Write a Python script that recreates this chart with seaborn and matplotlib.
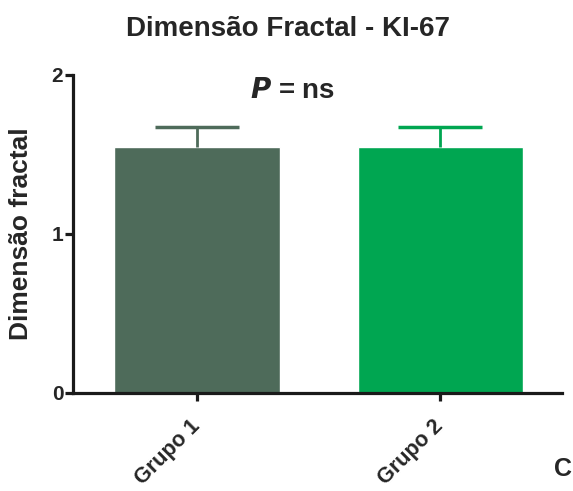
import matplotlib
matplotlib.use('Agg')
import matplotlib.pyplot as plt
import seaborn as sns
import pandas as pd

# Données
grupos = ['Grupo 1', 'Grupo 2']
medias = [1.55, 1.55]
erros = [0.125, 0.125]
cores = ['#4E6B5A', '#00A651']

sns.set_style('ticks')
plt.rcParams['font.family'] = ['Liberation Sans', 'DejaVu Sans']
plt.rcParams['font.weight'] = 'bold'

df = pd.DataFrame({'grupo': grupos, 'valor': medias})

fig = plt.figure(figsize=(5.73, 4.91), dpi=100)
ax = fig.add_axes([0.1274, 0.1996, 0.8536, 0.6477])

sns.barplot(data=df, x='grupo', y='valor', hue='grupo', palette=cores,
            width=0.68, legend=False, saturation=1, ax=ax, errorbar=None)

# Barres d'erreur (seulement vers le haut)
for i, (m, e, c) in enumerate(zip(medias, erros, cores)):
    _, caps, _ = ax.errorbar(i, m, yerr=[[0], [e]], fmt='none', ecolor=c,
                             elinewidth=2, capsize=30, capthick=2.5, zorder=1)
    for cap in caps:
        if cap.get_ydata()[0] <= m:
            cap.set_visible(False)

ax.set_xlim(-0.51, 1.5)
ax.set_ylim(0, 2)
ax.set_yticks([0, 1, 2])
ax.set_yticklabels(['0', '1', '2'], fontsize=15, fontweight='bold')
ax.set_xticks([0, 1])
ax.set_xticklabels(grupos, rotation=45, ha='right', va='center',
                   rotation_mode='anchor', fontsize=15.5, fontweight='bold')
ax.set_xlabel('')
ax.set_ylabel('Dimensão fractal', fontsize=19, fontweight='bold')
ax.yaxis.set_label_coords(-0.082, 0.5)

for s in ['top', 'right']:
    ax.spines[s].set_visible(False)
for s in ['left', 'bottom']:
    ax.spines[s].set_linewidth(2.3)
    ax.spines[s].set_color('#1a1a1a')
ax.tick_params(axis='both', width=2.3, length=6, color='#1a1a1a')
ax.tick_params(axis='y', pad=1)
ax.tick_params(axis='x', pad=15.5)

fig.text(0.502, 0.941, 'Dimensão Fractal - KI-67', ha='center', va='center',
         fontsize=20, fontweight='bold')
fig.text(0.51, 0.815, r'$\bfit{P}$ = ns', ha='center', va='center',
         fontsize=20, fontweight='bold')
fig.text(0.982, 0.045, 'C', ha='center', va='center', fontsize=18, fontweight='bold')

fig.savefig('out.png', dpi=100)
